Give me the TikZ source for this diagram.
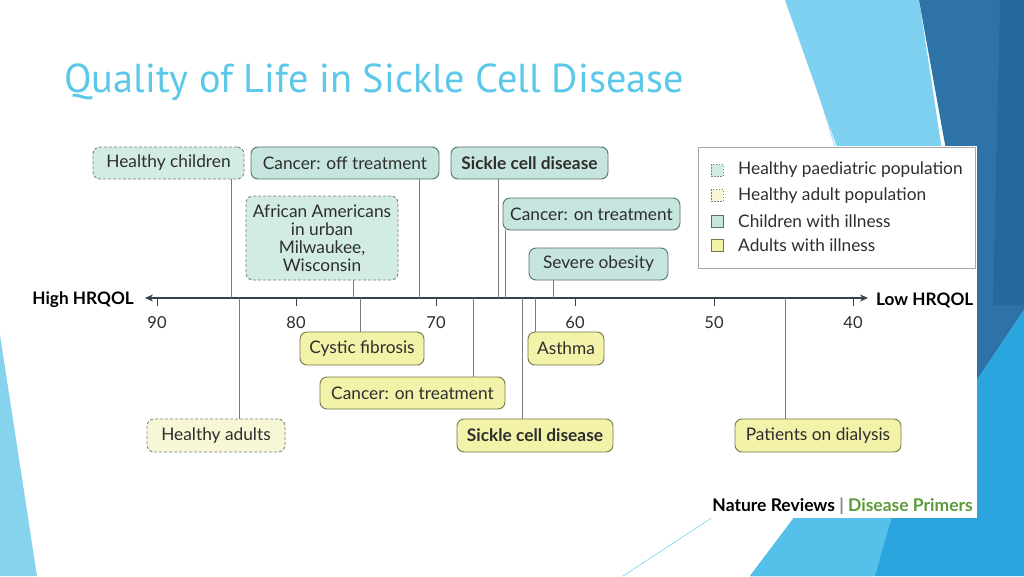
\documentclass[tikz,border=0pt]{standalone}
\usepackage{fontspec}
\setmainfont{Lato}
\newfontfamily\titlefont{PT Sans}
\usetikzlibrary{arrows.meta}
\definecolor{tealfill}{HTML}{C6E5DE}
\definecolor{tealfillL}{HTML}{D2EBE5}
\definecolor{tealline}{HTML}{55736C}
\definecolor{yfill}{HTML}{F2F2A8}
\definecolor{yfillL}{HTML}{F7F7D6}
\definecolor{yline}{HTML}{77774E}
\definecolor{dashline}{HTML}{7C8480}
\definecolor{conncol}{HTML}{7A7A7A}
\definecolor{axiscol}{HTML}{34444A}
\definecolor{txtc}{HTML}{2E2E2E}
\definecolor{titlecol}{HTML}{5BC8EA}
\definecolor{greenc}{HTML}{5C9A3C}
\definecolor{bgLight}{HTML}{7DD0F0}
\definecolor{bgDark}{HTML}{2E73A8}
\definecolor{bgDarker}{HTML}{2468A0}
\definecolor{bgBright}{HTML}{2AA5DD}
\definecolor{bgMid}{HTML}{55C1EA}
\definecolor{bgWedge}{HTML}{86D3EE}
\begin{document}
\begin{tikzpicture}[x=1pt,y=-1pt,
  lblfont/.style={font=\fontsize{17.3}{18}\selectfont},
  box/.style={rounded corners=7pt, minimum height=32pt, inner sep=0pt, text=txtc, lblfont, line width=0.9pt},
  tbox/.style={box, draw=tealline, fill=tealfill},
  ybox/.style={box, draw=yline, fill=yfill},
  tdash/.style={box, draw=dashline, fill=tealfillL, dash pattern=on 3pt off 2pt},
  ydash/.style={box, draw=dashline, fill=yfillL, dash pattern=on 3pt off 2pt},
  conn/.style={draw=conncol, line width=0.9pt},
  axisline/.style={draw=axiscol, line width=1.8pt, {Stealth[length=8pt,width=7pt]}-{Stealth[length=8pt,width=7pt]}},
  tickline/.style={draw=axiscol, line width=0.9pt},
  ticklbl/.style={text=txtc, font=\fontsize{16.5}{18}\selectfont},
  axlbl/.style={text=black, font=\fontsize{17.2}{20}\selectfont\bfseries},
  legsq/.style={minimum size=12pt, inner sep=0pt, line width=0.8pt},
  legtxt/.style={anchor=west, text=txtc, inner sep=0pt, font=\fontsize{17.3}{20}\selectfont}
]
\useasboundingbox (0,0) rectangle (1024,576);
\fill[white] (0,0) rectangle (1024,576);
% background decoration
\fill[bgWedge] (0,335) -- (37,576) -- (0,576) -- cycle;
\fill[bgLight] (785,0) -- (919,0) -- (945,170) -- (845,170) -- cycle;
\fill[bgDark] (919,0) -- (1024,0) -- (1024,310) -- (977,380) -- (955,200) -- cycle;
\fill[bgDarker] (1000,0) -- (1024,0) -- (1024,305) -- (993,305) -- cycle;
\fill[bgBright] (977,380) -- (1024,310) -- (1024,576) -- (750,576) -- (830,470) -- cycle;
\fill[bgMid] (830,470) -- (905,470) -- (875,576) -- (750,576) -- cycle;
\draw[bgLight, line width=0.6pt] (790,0) -- (836,150);
\draw[bgLight, line width=0.6pt] (713,517) -- (623,576);
% figure area
\fill[white] (30,146) rectangle (977,518);
% title
\node[anchor=base west, inner sep=0pt, text=titlecol, font=\titlefont\fontsize{40.3}{44}\selectfont] (title) at (64,92) {Quality of Life in Sickle Cell Disease};
% axis
\coordinate (axL) at (145,298);
\coordinate (axR) at (868,298);
\draw[axisline] (axL) -- (axR);
\node[axlbl, anchor=east, inner sep=0pt] (high) at (134,300) {High HRQOL};
\node[axlbl, anchor=west, inner sep=0pt] (low) at (876,300) {Low HRQOL};
\foreach \v/\x in {90/157,80/296,70/436,60/575,50/714,40/853} {
  \coordinate (t\v) at (\x,298);
  \draw[tickline] (t\v) -- ++(0,8);
  \node[ticklbl] (n\v) at (\x,323) {\v};
}
% top boxes
\node[tdash, minimum width=151pt] (hc) at (168.5,163) {Healthy children};
\node[tbox, minimum width=188pt] (cot) at (345,163) {Cancer: off treatment};
\node[tbox, minimum width=157pt] (scdA) at (529.5,163) {\bfseries Sickle cell disease};
\node[tdash, minimum width=152pt, minimum height=84pt, align=center] (aa) at (322,238) {African Americans\\in urban\\Milwaukee,\\Wisconsin};
\node[tbox, minimum width=177pt] (conA) at (591.5,214) {Cancer: on treatment};
\node[tbox, minimum width=139pt] (so) at (598.5,264) {Severe obesity};
% bottom boxes
\node[ybox, minimum width=124pt, minimum height=33pt] (cf) at (362,348.5) {Cystic fibrosis};
\node[ybox, minimum width=185pt] (conB) at (412.5,393) {Cancer: on treatment};
\node[ydash, minimum width=138pt, minimum height=33pt] (ha) at (216,435.5) {Healthy adults};
\node[ybox, minimum width=156pt, minimum height=33pt] (scdB) at (535,435.5) {\bfseries Sickle cell disease};
\node[ybox, minimum width=76pt, minimum height=33pt] (as) at (566,348.5) {Asthma};
\node[ybox, minimum width=166pt, minimum height=33pt] (pd) at (818,435.5) {Patients on dialysis};
% anchor points on axis
\coordinate (p-hc) at (231,298);
\coordinate (p-cot) at (419,298);
\coordinate (p-scdA) at (498,298);
\coordinate (p-aa) at (353,298);
\coordinate (p-conA) at (505,298);
\coordinate (p-so) at (553,298);
\coordinate (p-cf) at (360,298);
\coordinate (p-conB) at (473,298);
\coordinate (p-ha) at (239,298);
\coordinate (p-scdB) at (522,298);
\coordinate (p-as) at (535,298);
\coordinate (p-pd) at (785,298);
% connectors
\foreach \n in {hc,cot,scdA,aa,conA,so} {
  \draw[conn] (\n.south -| p-\n) -- (p-\n);
}
\foreach \n in {cf,conB,ha,scdB,as,pd} {
  \draw[conn] (p-\n) -- (\n.north -| p-\n);
}
% legend
\node[draw=gray!70, fill=white, line width=0.8pt, minimum width=277pt, minimum height=121pt, inner sep=0pt] (legend) at (836.5,207.5) {};
\node[legsq, draw=dashline, fill=tealfillL, dash pattern=on 1.5pt off 1.5pt] (l1) at (717,170) {};
\node[legsq, draw=dashline, fill=yfillL, dash pattern=on 1.5pt off 1.5pt] (l2) at (717,195) {};
\node[legsq, draw=tealline, fill=tealfill] (l3) at (717,221) {};
\node[legsq, draw=yline, fill=yfill] (l4) at (717,245) {};
\node[legtxt] (lt1) at (738,170) {Healthy paediatric population};
\node[legtxt] (lt2) at (738,196) {Healthy adult population};
\node[legtxt] (lt3) at (738,221) {Children with illness};
\node[legtxt] (lt4) at (738,245) {Adults with illness};
% footer
\node[anchor=base east, inner sep=0pt, font=\fontsize{17.5}{20}\selectfont\bfseries] (foot) at (973,511) {\textcolor{black}{Nature Reviews} \textcolor{gray}{|} \textcolor{greenc}{Disease Primers}};
\end{tikzpicture}
\end{document}
